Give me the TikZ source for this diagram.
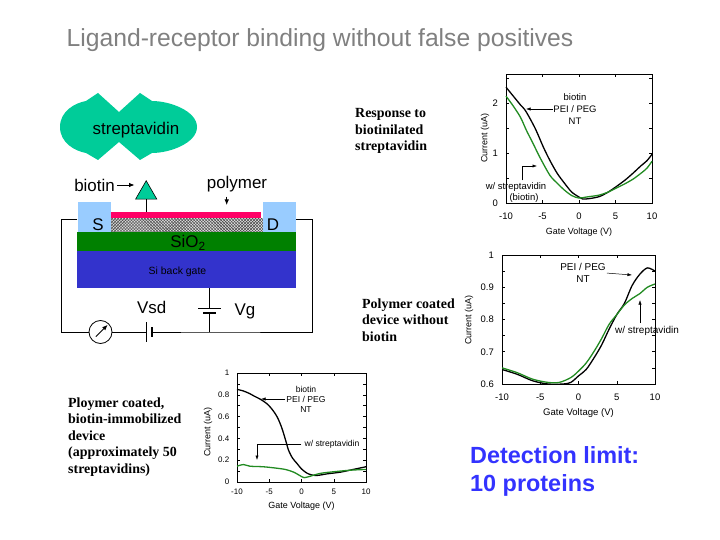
\documentclass[tikz,border=0pt]{standalone}
\usepackage{fontspec}
\setmainfont{Liberation Serif}
\setsansfont{Liberation Sans}
\usepackage{tikz}
\usetikzlibrary{positioning,patterns,calc,arrows.meta,shapes.geometric}

\definecolor{streptgreen}{RGB}{0,204,153}
\definecolor{padblue}{RGB}{153,204,255}
\definecolor{polypink}{RGB}{255,0,102}
\definecolor{oxidegreen}{RGB}{0,128,0}
\definecolor{gateblue}{RGB}{51,51,204}
\definecolor{curvegreen}{RGB}{34,139,34}
\definecolor{limitblue}{RGB}{51,51,255}
\definecolor{titlegray}{RGB}{128,128,128}

\begin{document}
\begin{tikzpicture}[x=1bp, y=-1bp, >={Latex[length=5.5bp, width=4.5bp]}]
\tikzset{DeviceText/.style = {font=\sffamily\fontsize{17}{20}\selectfont, inner sep=0pt}}
\tikzset{ElectrodeStyle/.style = {fill=padblue, minimum width=33bp, minimum height=30bp, inner sep=0pt}}
\tikzset{WireStyle/.style = {line width=0.8bp}}
\tikzset{AxisStyle/.style = {line width=0.5bp}}
\tikzset{TickText/.style = {font=\sffamily\fontsize{9.5}{11}\selectfont, inner sep=0pt}}
\tikzset{AxisText/.style = {font=\sffamily\fontsize{9}{11}\selectfont, inner sep=0pt}}
\tikzset{NoteText/.style = {font=\sffamily\fontsize{9.5}{12}\selectfont, inner sep=0pt, align=center}}
\tikzset{NoteArrow/.style = {->, line width=0.5bp, >={Latex[length=4.5bp, width=3.2bp]}}}
\tikzset{CaptionText/.style = {font=\rmfamily\bfseries\fontsize{14}{16.5}\selectfont, inner sep=0pt, align=left, anchor=west}}
\tikzset{BlackCurve/.style = {line width=1.3bp, black}}
\tikzset{GreenCurve/.style = {line width=1.3bp, curvegreen}}

  \useasboundingbox (0,0) rectangle (720,540);

  \node[font=\sffamily\fontsize{24.8}{28}\selectfont, text=titlegray, anchor=base] (title) at (320,47) {Ligand-receptor binding without false positives};

  % streptavidin
  \fill[streptgreen] (60,127) .. controls (60,111) and (75,103) .. (86,101) -- (98,93) -- (119,112) -- (140,93) -- (152,101)
    .. controls (170,101) and (197,111) .. (197,127) .. controls (197,143) and (170,153) .. (152,153)
    -- (140,160) -- (119,142) -- (98,160) -- (86,153) .. controls (75,151) and (60,143) .. (60,127) -- cycle;
  \node[DeviceText] (strep) at (136,130) {streptavidin};

  % device
  \fill[oxidegreen] (77,231.7) rectangle (296,251);
  \node[fill=gateblue, minimum width=219bp, minimum height=37bp, inner sep=0pt] (gate) at (186.5,269.5) {};
  \fill[polypink] (111,212) rectangle (261,218.3);
  \fill[gray!25] (111,218.3) rectangle (263.3,231.7);
  \fill[pattern=north east lines, pattern color=black!75] (111,218.3) rectangle (263.3,231.7);
  \fill[pattern=north west lines, pattern color=black!75] (111,218.3) rectangle (263.3,231.7);
  \node[ElectrodeStyle] (S) at (94,217) {};
  \node[ElectrodeStyle] (D) at (279.5,217) {};
  \node[DeviceText] (Slab) at (98,225) {S};
  \node[DeviceText] (Dlab) at (273,225) {D};
  \node[DeviceText] (oxlab) at (188,243) {SiO\textsubscript{2}};
  \node[font=\sffamily\fontsize{10.5}{12}\selectfont, inner sep=0pt] (gatelab) at (177.5,272) {Si back gate};

  \node[draw, fill=streptgreen, line width=0.6bp, regular polygon, regular polygon sides=3, minimum size=24.5bp, inner sep=0pt] (tri) at (146.2,193) {};
  \coordinate (stem) at (146.2,212);
  \draw[line width=0.7bp] (tri) -- (stem);
  \node[DeviceText] (biolab) at (94.5,185) {biotin};
  \coordinate (biotip) at (134.5,185);
  \draw[->, WireStyle, shorten <=2bp] (biolab.east) -- (biotip);
  \node[DeviceText] (polylab) at (237,184) {polymer};
  \coordinate (polytip) at (226.7,205);
  \draw[->, WireStyle, shorten <=4.5bp] (polylab.south -| polytip) -- (polytip);

  % circuit
  \node[draw, circle, fill=white, WireStyle, minimum size=23bp, inner sep=0pt] (meter) at (100.5,332) {};
  \coordinate (leftc) at (61,332);
  \coordinate (rightc) at (312,332);
  \coordinate (gatec) at (209.5,332);
  \coordinate (vsdA) at (146.5,332);
  \coordinate (vsdB) at (151.8,332);
  \coordinate (vgA) at (209.5,308.3);
  \coordinate (vgB) at (209.5,313.3);
  \draw[WireStyle] ([yshift=-2bp]S.west) -| (leftc) -- (meter);
  \draw[WireStyle] (meter) -- (vsdA);
  \draw[WireStyle] (vsdB) -- (gatec) -- (rightc) |- ([yshift=-2bp]D.east);
  \draw[WireStyle] (gate.south -| vgA) -- (vgA);
  \draw[WireStyle] (vgB) -- (gatec);
  \draw[line width=0.9bp] ([yshift=10bp]vsdA) -- ([yshift=-10bp]vsdA);
  \draw[line width=2.2bp] ([yshift=5bp]vsdB) -- ([yshift=-5bp]vsdB);
  \draw[line width=0.9bp] ([xshift=-11.2bp]vgA) -- ([xshift=11.2bp]vgA);
  \draw[line width=2.2bp] ([xshift=-6.5bp]vgB) -- ([xshift=6.5bp]vgB);
  \draw[->, WireStyle] ($(meter.center)!0.55!(meter.south west)$) -- ($(meter.center)!0.85!(meter.north east)$);
  \node[DeviceText] (vsdlab) at (151.7,307.3) {Vsd};
  \node[DeviceText] (vglab) at (245,311.7) {Vg};

  % captions
  \node[CaptionText] (cap1) at (355,131) {Response to\\biotinilated\\streptavidin};
  \node[CaptionText] (cap2) at (362,320) {Polymer coated\\device without\\biotin};
  \node[CaptionText] (cap3) at (68,437) {Ploymer coated,\\biotin-immobilized\\device\\(approximately 50\\streptavidins)};
  \node[font=\sffamily\bfseries\fontsize{23.5}{28}\selectfont, text=limitblue, inner sep=0pt, align=left, anchor=west] (limit) at (470,471) {Detection limit:\\10 proteins};

  % plot 1
  \begin{scope}[shift={(579,203)}, x=7.3bp, y=49.7bp]
    \draw[AxisStyle] (-10,0) rectangle (10,2.6);
    \foreach \v in {-5,0,5} {
      \draw[AxisStyle] (\v,0) -- ++(0,3bp);
      \draw[AxisStyle] (\v,2.6) -- ++(0,-3bp);
    }
    \foreach \c in {0.5,1,1.5,2,2.5} {
      \draw[AxisStyle] (-10,\c) -- ++(3bp,0);
      \draw[AxisStyle] (10,\c) -- ++(-3bp,0);
    }
    \node[TickText] (p1x1) at ([yshift=-13bp]-10,0) {-10};
    \node[TickText] (p1x2) at ([yshift=-13bp]-5,0) {-5};
    \node[TickText] (p1x3) at ([yshift=-13bp]0,0) {0};
    \node[TickText] (p1x4) at ([yshift=-13bp]5,0) {5};
    \node[TickText] (p1x5) at ([yshift=-13bp]10,0) {10};
    \node[TickText, anchor=east] (p1y1) at ([xshift=-8bp]-10,0) {0};
    \node[TickText, anchor=east] (p1y2) at ([xshift=-8bp]-10,1) {1};
    \node[TickText, anchor=east] (p1y3) at ([xshift=-8bp]-10,2) {2};
    \draw[BlackCurve] plot[smooth] coordinates {(-10,2.33) (-9,2.15) (-8,1.97) (-7.3,1.85) (-6,1.5) (-4.9,1.13) (-4,0.86) (-3,0.6) (-2,0.4) (-1,0.22) (0,0.12) (0.5,0.08) (1.5,0.09) (2.8,0.13) (4,0.22) (5.1,0.33) (6.3,0.46) (7.4,0.6) (8.5,0.75) (9.3,0.85) (10,0.98)};
    \draw[GreenCurve] plot[smooth] coordinates {(-10,2.15) (-9,1.95) (-8,1.72) (-7.2,1.46) (-6.3,1.2) (-5.4,0.93) (-4,0.56) (-3,0.4) (-2,0.26) (-1,0.15) (0,0.1) (1,0.12) (2,0.14) (2.8,0.16) (4,0.22) (5.1,0.3) (6.2,0.38) (7.4,0.48) (8.5,0.6) (9.3,0.7) (10,0.84)};
  \end{scope}
  \node[AxisText, rotate=90] (p1ylab) at (485,138) {Current (uA)};
  \node[AxisText] (p1xlab) at (579,232) {Gate Voltage (V)};
  \node[NoteText] (n1lab) at (575,109) {biotin\\PEI / PEG\\NT};
  \coordinate (n1tip) at (526,109);
  \draw[NoteArrow] (n1lab.west) -- (n1tip);
  \node[NoteText] (n1st) at (516,187) {w/ streptavidin};
  \node[NoteText] (n1bio) at (524,198) {(biotin)};
  \coordinate (n1elb) at (522,166);
  \coordinate (n1sttip) at (537,166);
  \draw[NoteArrow, shorten <=2bp] (n1st.north -| n1elb) -- (n1elb) -- (n1sttip);

  % plot 2
  \begin{scope}[shift={(578.5,577.5)}, x=7.65bp, y=322.5bp]
    \draw[AxisStyle] (-10,0.6) rectangle (10,1);
    \foreach \v in {-5,0,5} {
      \draw[AxisStyle] (\v,0.6) -- ++(0,3bp);
      \draw[AxisStyle] (\v,1) -- ++(0,-3bp);
    }
    \foreach \c in {0.65,0.7,0.75,0.8,0.85,0.9,0.95} {
      \draw[AxisStyle] (-10,\c) -- ++(3bp,0);
      \draw[AxisStyle] (10,\c) -- ++(-3bp,0);
    }
    \node[TickText] (p2x1) at ([yshift=-13bp]-10,0.6) {-10};
    \node[TickText] (p2x2) at ([yshift=-13bp]-5,0.6) {-5};
    \node[TickText] (p2x3) at ([yshift=-13bp]0,0.6) {0};
    \node[TickText] (p2x4) at ([yshift=-13bp]5,0.6) {5};
    \node[TickText] (p2x5) at ([yshift=-13bp]10,0.6) {10};
    \node[TickText, anchor=east] (p2y1) at ([xshift=-8bp]-10,0.6) {0.6};
    \node[TickText, anchor=east] (p2y2) at ([xshift=-8bp]-10,0.7) {0.7};
    \node[TickText, anchor=east] (p2y3) at ([xshift=-8bp]-10,0.8) {0.8};
    \node[TickText, anchor=east] (p2y4) at ([xshift=-8bp]-10,0.9) {0.9};
    \node[TickText, anchor=east] (p2y5) at ([xshift=-8bp]-10,1) {1};
    \begin{scope}
      \clip (-10,0.6) rectangle (10,1);
      \draw[BlackCurve] plot[smooth] coordinates {(-10,0.645) (-8,0.63) (-6,0.61) (-4,0.6) (-2,0.6) (-1,0.605) (0,0.625) (1,0.645) (2,0.68) (3,0.72) (4,0.77) (5,0.815) (6,0.85) (7,0.905) (8,0.94) (9,0.96) (10,0.95)};
      \draw[GreenCurve] plot[smooth] coordinates {(-10,0.65) (-8,0.635) (-6,0.615) (-4,0.605) (-2.5,0.605) (-1,0.62) (0,0.64) (1,0.665) (2,0.7) (3,0.74) (4,0.785) (5,0.815) (6,0.845) (7,0.865) (8,0.88) (9,0.9) (10,0.91)};
    \end{scope}
  \end{scope}
  \node[AxisText, rotate=90] (p2ylab) at (469,320) {Current (uA)};
  \node[AxisText, font=\sffamily\fontsize{9.6}{11}\selectfont] (p2xlab) at (578.5,413) {Gate Voltage (V)};
  \node[NoteText, font=\sffamily\fontsize{10}{12}\selectfont] (n2lab) at (583,273) {PEI / PEG\\NT};
  \coordinate (n2tip) at (632,275);
  \draw[NoteArrow, shorten <=1bp] (n2lab.east) -- (n2tip);
  \node[NoteText, font=\sffamily\fontsize{10}{12}\selectfont] (n2st) at (647,331) {w/ streptavidin};
  \coordinate (n2sttip) at (640,300);
  \draw[NoteArrow, shorten <=3bp] (n2st.north -| n2sttip) -- (n2sttip);

  % plot 3
  \begin{scope}[shift={(301.5,482)}, x=6.45bp, y=109bp]
    \draw[AxisStyle] (-10,0) rectangle (10,1);
    \foreach \v in {-5,0,5} {
      \draw[AxisStyle] (\v,0) -- ++(0,3bp);
      \draw[AxisStyle] (\v,1) -- ++(0,-3bp);
    }
    \foreach \c in {0.1,0.2,0.3,0.4,0.5,0.6,0.7,0.8,0.9} {
      \draw[AxisStyle] (-10,\c) -- ++(3bp,0);
      \draw[AxisStyle] (10,\c) -- ++(-3bp,0);
    }
    \node[TickText, font=\sffamily\fontsize{8}{10}\selectfont] (p3x1) at ([yshift=-10bp]-10,0) {-10};
    \node[TickText, font=\sffamily\fontsize{8}{10}\selectfont] (p3x2) at ([yshift=-10bp]-5,0) {-5};
    \node[TickText, font=\sffamily\fontsize{8}{10}\selectfont] (p3x3) at ([yshift=-10bp]0,0) {0};
    \node[TickText, font=\sffamily\fontsize{8}{10}\selectfont] (p3x4) at ([yshift=-10bp]5,0) {5};
    \node[TickText, font=\sffamily\fontsize{8}{10}\selectfont] (p3x5) at ([yshift=-10bp]10,0) {10};
    \node[TickText, font=\sffamily\fontsize{8}{10}\selectfont, anchor=east] (p3y1) at ([xshift=-7.5bp]-10,0) {0};
    \node[TickText, font=\sffamily\fontsize{8}{10}\selectfont, anchor=east] (p3y2) at ([xshift=-7.5bp]-10,0.2) {0.2};
    \node[TickText, font=\sffamily\fontsize{8}{10}\selectfont, anchor=east] (p3y3) at ([xshift=-7.5bp]-10,0.4) {0.4};
    \node[TickText, font=\sffamily\fontsize{8}{10}\selectfont, anchor=east] (p3y4) at ([xshift=-7.5bp]-10,0.6) {0.6};
    \node[TickText, font=\sffamily\fontsize{8}{10}\selectfont, anchor=east] (p3y5) at ([xshift=-7.5bp]-10,0.8) {0.8};
    \node[TickText, font=\sffamily\fontsize{8}{10}\selectfont, anchor=east] (p3y6) at ([xshift=-7.5bp]-10,1) {1};
    \draw[BlackCurve] plot[smooth] coordinates {(-10,0.85) (-9,0.835) (-8,0.81) (-7.4,0.79) (-6.4,0.76) (-5.4,0.72) (-4.6,0.67) (-3.8,0.6) (-3.2,0.52) (-2.8,0.45) (-2.4,0.37) (-2,0.29) (-1.4,0.22) (-0.7,0.17) (0,0.12) (0.8,0.083) (1.5,0.066) (2.4,0.06) (4,0.075) (6,0.09) (8,0.115) (10,0.14)};
    \draw[GreenCurve] plot[smooth] coordinates {(-10,0.145) (-9,0.16) (-8,0.145) (-6,0.14) (-4.3,0.13) (-2.5,0.115) (-1.2,0.09) (0,0.05) (0.4,0.04) (1.2,0.05) (3,0.08) (6,0.1) (8,0.11) (10,0.115)};
  \end{scope}
  \node[AxisText, rotate=90] (p3ylab) at (208,432) {Current (uA)};
  \node[AxisText] (p3xlab) at (301.5,506) {Gate Voltage (V)};
  \node[NoteText, font=\sffamily\fontsize{8.6}{10}\selectfont] (n3lab) at (306,399) {biotin\\PEI / PEG\\NT};
  \coordinate (n3tip) at (261,399);
  \draw[NoteArrow, shorten <=1bp] (n3lab.west) -- (n3tip);
  \node[NoteText, font=\sffamily\fontsize{8.6}{10}\selectfont] (n3st) at (332,444) {w/ streptavidin};
  \coordinate (n3elb) at (257,444);
  \coordinate (n3tip2) at (257,460);
  \draw[NoteArrow, shorten <=3bp] (n3st.west) -- (n3elb) -- (n3tip2);

\end{tikzpicture}
\end{document}
